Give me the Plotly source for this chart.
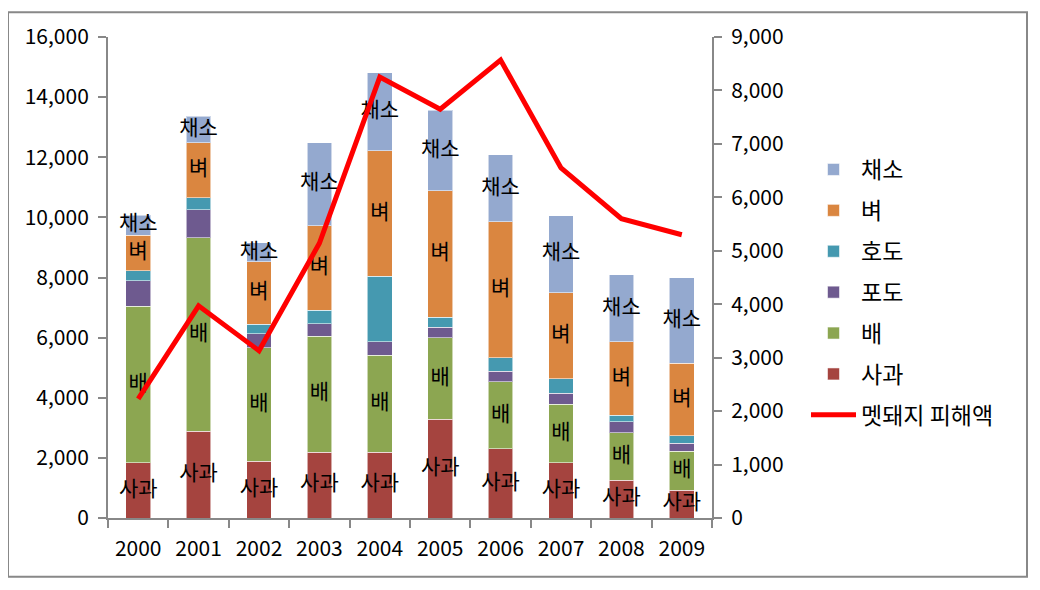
import numpy as np
import plotly.graph_objects as go

years = ['2000', '2001', '2002', '2003', '2004', '2005', '2006', '2007', '2008', '2009']
apple = [1830, 2880, 1890, 2190, 2190, 3280, 2300, 1830, 1260, 930]
pear = [5210, 6440, 3770, 3860, 3230, 2720, 2230, 1960, 1580, 1290]
grape = [860, 940, 470, 410, 440, 350, 350, 360, 360, 270]
walnut = [320, 400, 320, 450, 2180, 330, 450, 490, 220, 250]
rice = [1190, 1820, 2070, 2810, 4180, 4210, 4520, 2860, 2440, 2400]
veg = [660, 880, 640, 2770, 2590, 2680, 2230, 2550, 2230, 2860]
damage = [2230, 3970, 3130, 5140, 8250, 7650, 8570, 6550, 5600, 5300]

left_ticks = list(range(0, 16001, 2000))
right_ticks = list(range(0, 9001, 1000))

series = [
    ('사과', apple, '#A5443F', True),
    ('배', pear, '#8CA651', True),
    ('포도', grape, '#6E5A8F', False),
    ('호도', walnut, '#4599B0', False),
    ('벼', rice, '#DA8640', True),
    ('채소', veg, '#94A9CF', True),
]
legend_rank = {'채소': 1, '벼': 2, '호도': 3, '포도': 4, '배': 5, '사과': 6}

FONT = 'Noto Sans CJK KR, Noto Sans, sans-serif'
W, H = 1032, 582
PL, PR, PT, PB = 100, 704, 26, 510  # plot area in figure pixels
PW, PH = PR - PL, PB - PT

fig = go.Figure()

base = np.zeros(len(years))
label_traces = []
for name, vals, color, labeled in series:
    v = np.array(vals, dtype=float)
    fig.add_trace(go.Bar(
        x=years, y=vals, name=name,
        marker=dict(color=color, line=dict(color='rgba(255,255,255,0.55)', width=1)),
        legendrank=legend_rank[name], legendgroup=name,
    ))
    if labeled:
        label_traces.append(go.Scatter(
            x=years, y=base + v / 2, mode='text', text=[name] * len(years),
            textposition='middle center', textfont=dict(size=21, color='black', family=FONT),
            showlegend=False, hoverinfo='skip', cliponaxis=False,
        ))
    base = base + v

for t in label_traces:
    fig.add_trace(t)

fig.add_trace(go.Scatter(
    x=years, y=damage, name='멧돼지 피해액', yaxis='y2', mode='lines',
    line=dict(color='#FF0000', width=5), legendrank=7, legendgroup='damage',
    cliponaxis=False,
))

axis_common = dict(
    showgrid=False, zeroline=False, showline=True, linecolor='#888888', linewidth=2,
    ticks='outside', ticklen=8, tickwidth=2, tickcolor='#888888',
    tickfont=dict(size=21, color='black', family=FONT),
)

fig.update_layout(
    width=W, height=H,
    margin=dict(l=PL, r=W - PR, t=PT, b=H - PB),
    paper_bgcolor='white', plot_bgcolor='white',
    barmode='stack', bargap=0.59,
    font=dict(family=FONT, color='black'),
    xaxis=dict(**axis_common, type='category', tickson='boundaries', range=[-0.5, 9.5],
               ticklabelstandoff=11),
    yaxis=dict(**axis_common, range=[0, 16000], tickvals=left_ticks, tickformat=',',
               ticklabelstandoff=5),
    yaxis2=dict(**axis_common, range=[0, 9000], tickvals=right_ticks, tickformat=',',
                overlaying='y', side='right', ticklabelstandoff=5),
    legend=dict(
        xref='container', yref='container', x=798 / W, y=1 - 140 / H,
        xanchor='left', yanchor='top', font=dict(size=23, family=FONT, color='black'),
        tracegroupgap=8, itemwidth=45, bgcolor='rgba(0,0,0,0)',
    ),
    shapes=[dict(
        type='rect', xref='paper', yref='paper',
        x0=(0 - PL) / PW, x1=(1019 - PL) / PW,
        y0=(PB - 569) / PH, y1=(PB - 1) / PH,
        line=dict(color='#888888', width=2), fillcolor='rgba(0,0,0,0)', layer='below',
    )],
    showlegend=True,
)

fig.write_html('out.html')
